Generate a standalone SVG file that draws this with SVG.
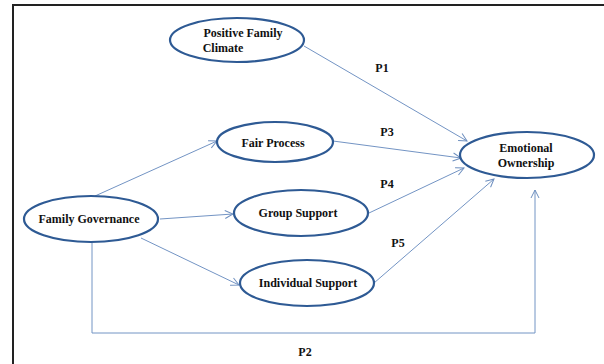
<svg xmlns="http://www.w3.org/2000/svg" width="604" height="364" viewBox="0 0 604 364">
<defs>
<marker id="arr" viewBox="0 0 10 10" refX="9" refY="5" markerWidth="10" markerHeight="10" markerUnits="userSpaceOnUse" orient="auto">
<path d="M1,1 L9,5 L1,9" fill="none" stroke="#6E8FBF" stroke-width="1"/>
</marker>
</defs>
<style>
.node ellipse{fill:#fff;stroke:#2E5A94;stroke-width:2.2}
.lbl{font-family:"Liberation Serif","Times New Roman",serif;font-weight:bold;font-size:12px;fill:#111;text-anchor:middle}
.edge{fill:none;stroke:#7394C4;stroke-width:1;marker-end:url(#arr)}
</style>
<rect x="0" y="0" width="604" height="364" fill="#fff"/>
<rect x="13" y="5" width="600" height="370" fill="none" stroke="#222" stroke-width="2"/>
<g id="connectors">
<line class="edge" x1="304" y1="46" x2="467" y2="141"/>
<line class="edge" x1="333" y1="141" x2="461" y2="158"/>
<line class="edge" x1="369" y1="213" x2="464" y2="168"/>
<line class="edge" x1="374" y1="283" x2="494" y2="179"/>
<line class="edge" x1="95" y1="196" x2="217" y2="141"/>
<line class="edge" x1="160" y1="219" x2="233" y2="214"/>
<line class="edge" x1="141" y1="238" x2="239" y2="285"/>
<polyline class="edge" points="92,243 92,333 535,333 535,190"/>
<text class="lbl" x="382" y="72">P1</text>
<text class="lbl" x="387" y="136">P3</text>
<text class="lbl" x="387" y="188">P4</text>
<text class="lbl" x="398" y="247">P5</text>
<text class="lbl" x="305" y="356">P2</text>
</g>
<g id="positive-family-climate" class="node">
<ellipse cx="237" cy="40" rx="67" ry="22"/>
<text class="lbl" x="243" y="37">Positive Family</text>
<text class="lbl" x="223" y="52">Climate</text>
</g>
<g id="fair-process" class="node">
<ellipse cx="275" cy="142" rx="58" ry="20"/>
<text class="lbl" x="273" y="147">Fair Process</text>
</g>
<g id="emotional-ownership" class="node">
<ellipse cx="527" cy="155" rx="67" ry="23"/>
<text class="lbl" x="526" y="152">Emotional</text>
<text class="lbl" x="526" y="167">Ownership</text>
</g>
<g id="family-governance" class="node">
<ellipse cx="91" cy="219" rx="67" ry="23"/>
<text class="lbl" x="89" y="223">Family Governance</text>
</g>
<g id="group-support" class="node">
<ellipse cx="301" cy="213" rx="67" ry="23"/>
<text class="lbl" x="298" y="217">Group Support</text>
</g>
<g id="individual-support" class="node">
<ellipse cx="307" cy="283" rx="67" ry="23"/>
<text class="lbl" x="308" y="287">Individual Support</text>
</g>
</svg>
